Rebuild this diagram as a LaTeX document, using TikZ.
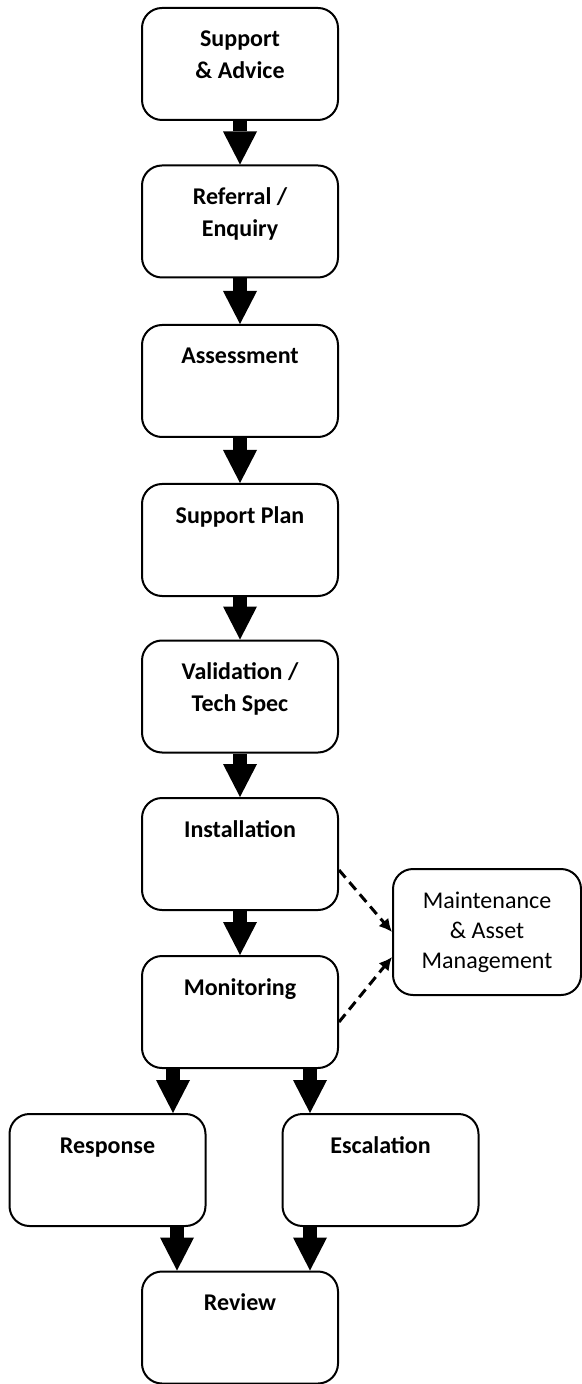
\documentclass[tikz,border=0pt]{standalone}
\usepackage{fontspec}
\setmainfont{Carlito}
\usetikzlibrary{arrows.meta}

% title sits at the top of each stage box
\newcommand{\stagetext}[1]{\parbox[c][56pt][t]{92pt}{\centering\rule{0pt}{19.5pt}#1}}

\begin{document}
\begin{tikzpicture}[x=0.5pt, y=-0.5pt,
    stage/.style={draw, line width=1pt, rounded corners=10pt, minimum width=98pt,
                  minimum height=56pt, inner sep=0pt, font=\fontsize{12}{16}\selectfont\bfseries},
    side/.style={draw, line width=1pt, rounded corners=10pt, minimum width=94pt,
                 minimum height=63pt, align=center, font=\fontsize{12}{15}\selectfont},
    flow/.style={line width=7pt, -{Triangle[length=16.5pt, width=17pt, line width=0pt]}},
    link/.style={line width=1.5pt, dash pattern=on 5pt off 3pt, -{Latex[length=6.5pt, width=6.5pt]}}]

      \useasboundingbox (0,0) rectangle (582,1384);

      % main column
      \node (advice)   [stage] at (240,64)     {\stagetext{Support\\ \& Advice}};
      \node (referral) [stage] at (240,221.5)  {\stagetext{Referral /\\ Enquiry}};
      \node (assess)   [stage] at (240,381)    {\stagetext{Assessment}};
      \node (plan)     [stage] at (240,540)    {\stagetext{Support Plan}};
      \node (valid)    [stage] at (240,696.5)  {\stagetext{Validation /\\ Tech Spec}};
      \node (install)  [stage] at (240,854)    {\stagetext{Installation}};
      \node (monitor)  [stage] at (240,1012)   {\stagetext{Monitoring}};

      % branches and review
      \node (respond)  [stage] at (107.5,1170) {\stagetext{Response}};
      \node (escalate) [stage] at (380.5,1170) {\stagetext{Escalation}};
      \node (review)   [stage] at (240,1327.5) {\stagetext{Review}};

      % side box
      \node (maint)    [side]  at (487,932)    {Maintenance\\ \& Asset\\ Management};

      \draw [flow] (advice)   -- (referral);
      \draw [flow] (referral) -- (assess);
      \draw [flow] (assess)   -- (plan);
      \draw [flow] (plan)     -- (valid);
      \draw [flow] (valid)    -- (install);
      \draw [flow] (install)  -- (monitor);

      \draw [flow] ([xshift=-33.5pt]monitor.south) -- ([xshift=-33.5pt]monitor.south |- respond.north);
      \draw [flow] ([xshift=35pt]monitor.south)    -- ([xshift=35pt]monitor.south |- escalate.north);
      \draw [flow] ([xshift=34.75pt]respond.south)   -- ([xshift=34.75pt]respond.south |- review.north);
      \draw [flow] ([xshift=-35.25pt]escalate.south) -- ([xshift=-35.25pt]escalate.south |- review.north);

      \draw [link] ([yshift=-8pt]install.east) -- (maint.west);
      \draw [link] ([yshift=-5pt]monitor.east) -- ([yshift=-12.5pt]maint.west);
\end{tikzpicture}
\end{document}
